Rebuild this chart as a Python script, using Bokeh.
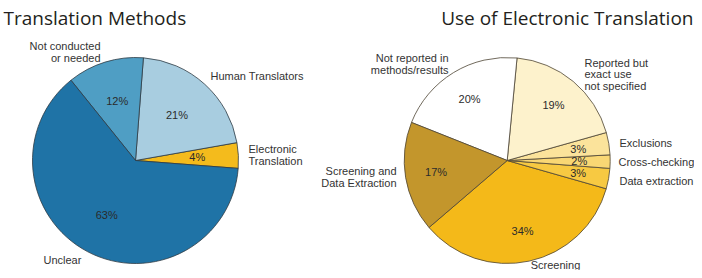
import math
from bokeh.plotting import figure
from bokeh.models import ColumnDataSource, Range1d
from bokeh.core.properties import value
from bokeh.embed import file_html
from bokeh.resources import INLINE

# ---------------- data ----------------
methods_categories = ["Electronic\nTranslation", "Human Translators", "Not conducted\nor needed", "Unclear"]
methods_values = [4.0, 21.0, 12.0, 63.0]
methods_pct_text = ["4%", "21%", "12%", "63%"]
methods_colors = ["#f4bb1c", "#a8cde0", "#4f9ec4", "#1f73a6"]

use_categories = ["Screening", "Data extraction", "Cross-checking", "Exclusions",
                  "Reported but\nexact use\nnot specified", "Not reported in\nmethods/results",
                  "Screening and\nData Extraction"]
use_values = [34.3, 3.2, 2.1, 3.5, 19.1, 20.5, 17.3]
use_pct_text = ["34%", "3%", "2%", "3%", "19%", "20%", "17%"]
use_colors = ["#f4b919", "#f7c942", "#f9d774", "#fbe39b", "#fdf2cc", "#ffffff", "#c3962c"]

titles = ["Translation Methods", "Use of Electronic Translation"]

# ---------------- layout (picture pixel coords) ----------------
W, H = 694, 270
def X(px): return px
def Y(py): return H - py

R = 103
left_center = (135, 160)
right_center = (506.7, 160)
left_start_deg = -4.4
right_start_deg = -139.4

# outer label anchors: (x, first-line y, align, line spacing)
methods_label_pos = [(248, 148, "left", 12), (210, 75, "left", 12),
                     (100, 45, "right", 12), (43, 259, "left", 12)]
use_label_pos = [(555, 264, "center", 12), (619, 180, "left", 12), (618, 161, "left", 12),
                 (619, 142, "left", 12), (584, 62, "left", 11.5), (448, 57, "right", 12),
                 (396, 170, "right", 12)]

LABEL_FONT = value("Liberation Sans")
TITLE_FONT = value("Open Sans")

p = figure(width=W, height=H, x_range=Range1d(0, W), y_range=Range1d(0, H),
           output_backend="svg", toolbar_location=None, min_border=0,
           x_axis_location=None, y_axis_location=None)
p.grid.visible = False
p.outline_line_color = None
p.background_fill_color = "white"
p.border_fill_color = "white"


def draw_pie(center, start_deg, values, colors, pct_text, rfrac, line_color):
    cx, cy = X(center[0]), Y(center[1])
    total = sum(values)
    starts, ends, mids = [], [], []
    a = math.radians(start_deg)
    for v in values:
        span = 2 * math.pi * v / total
        starts.append(a)
        ends.append(a + span)
        mids.append(a + span / 2)
        a += span
    src = ColumnDataSource(dict(x=[cx] * len(values), y=[cy] * len(values),
                                s=starts, e=ends, c=colors))
    p.wedge(x="x", y="y", radius=R, start_angle="s", end_angle="e",
            fill_color="c", line_color=line_color, line_width=0.8, source=src)
    tx = [cx + rfrac * R * math.cos(m) for m in mids]
    ty = [cy + rfrac * R * math.sin(m) for m in mids]
    p.text(x=tx, y=ty, text=pct_text, text_align="center", text_baseline="middle",
           text_font=LABEL_FONT, text_font_size="11px", text_color="#2b2b2b")


def draw_labels(categories, positions):
    xs, ys, ts, aligns = [], [], [], []
    for cat, (px, py, al, sp) in zip(categories, positions):
        for i, line in enumerate(cat.split("\n")):
            xs.append(X(px))
            ys.append(Y(py + i * sp))
            ts.append(line)
            aligns.append(al)
    for al in ("left", "right", "center"):
        idx = [i for i, a in enumerate(aligns) if a == al]
        if not idx:
            continue
        p.text(x=[xs[i] for i in idx], y=[ys[i] for i in idx], text=[ts[i] for i in idx],
               text_align=al, text_baseline="middle", text_font=LABEL_FONT,
               text_font_size="11px", text_color="#333333")


draw_pie(left_center, left_start_deg, methods_values, methods_colors, methods_pct_text, 0.6, "#2e3b44")
draw_pie(right_center, right_start_deg, use_values, use_colors, use_pct_text, 0.7, "#4d4433")
draw_labels(methods_categories, methods_label_pos)
draw_labels(use_categories, use_label_pos)

p.text(x=[X(3)], y=[Y(17)], text=[titles[0]], text_align="left", text_baseline="alphabetic",
       text_font=TITLE_FONT, text_font_size="19px", text_color="#231f20")
p.text(x=[X(693)], y=[Y(17)], text=[titles[1]], text_align="right", text_baseline="alphabetic",
       text_font=TITLE_FONT, text_font_size="19px", text_color="#231f20")

open("out.html", "w").write(file_html(p, INLINE))
